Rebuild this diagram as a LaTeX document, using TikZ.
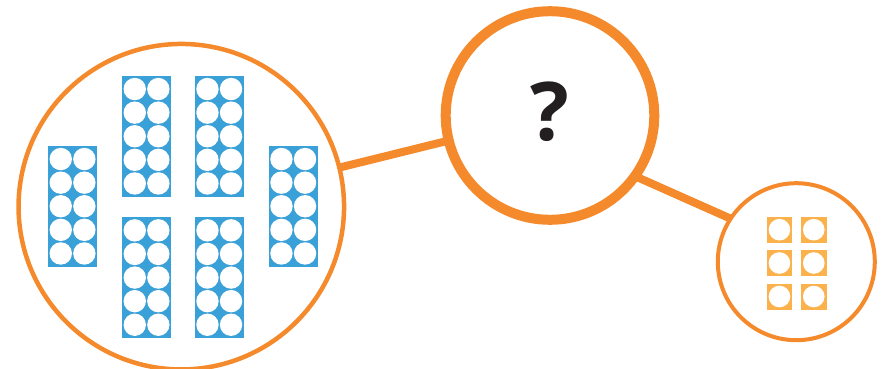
\documentclass[tikz,border=0pt]{standalone}
\usepackage{fontspec}
\setmainfont{Open Sans}
\usetikzlibrary{backgrounds}
\definecolor{orng}{HTML}{F58A2C}
\definecolor{blu}{HTML}{3AA0D8}
\definecolor{lorng}{HTML}{FBB24C}
\definecolor{qdark}{HTML}{231F20}
\begin{document}
\begin{tikzpicture}[x=1pt,y=-1pt,
  ring/.style={circle,draw=orng,fill=white,inner sep=0pt},
  link/.style={draw=orng,line width=8pt},
  tenframe/.style={fill=blu},
  minisq/.style={fill=lorng},
  hole/.style={fill=white}]
\useasboundingbox (0,0) rectangle (886,369);
\clip (0,0) rectangle (886,369);
\node[ring,line width=4.5pt,minimum size=325.5pt] (big) at (181.3,206.7) {};
\node[ring,line width=10pt,minimum size=208.6pt] (mid) at (550,115.5) {};
\node[ring,line width=4pt,minimum size=157pt] (small) at (796.3,261.7) {};
\node[anchor=base,text=qdark,font=\fontsize{81}{81}\selectfont\bfseries,inner sep=0pt] (q) at (550,140) {?};
\begin{pgfonlayer}{background}
\draw[link] (big.center) -- (mid.center);
\draw[link,shorten <=-6pt,shorten >=-6pt] (mid.-35.6) -- (small.147.5);
\end{pgfonlayer}
\foreach \bx/\by in {48.3/146,122.3/76,195/76,122.3/217.3,195/217.3,269/146}{
  \fill[tenframe] (\bx,\by) rectangle ++(48.5,120.5);
  \foreach \i in {0,1}
    \foreach \j in {0,...,4}
      \fill[hole] (\bx+12.45+23.6*\i, \by+13.05+23.6*\j) circle[radius=11.2];
}
\foreach \sx/\sy in {766.7/216.7,801/216.7,766.7/250,801/250,766.7/283.5,801/283.5}{
  \fill[minisq] (\sx,\sy) rectangle ++(25.5,26);
  \fill[hole] (\sx+12.75,\sy+13) circle[radius=10.8];
}
\end{tikzpicture}
\end{document}
